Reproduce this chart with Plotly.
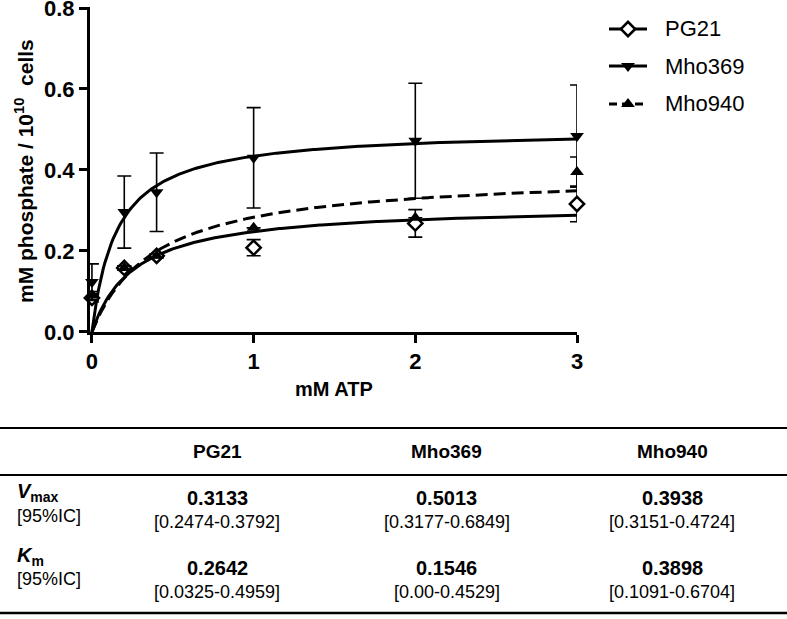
import numpy as np
import plotly.graph_objects as go

# ---------------- data ----------------
atp = [0, 0.2, 0.4, 1, 2, 3]
strains = ["PG21", "Mho369", "Mho940"]
pg21 = [0.084, 0.158, 0.188, 0.208, 0.268, 0.316]
pg21_err = [0.010, 0.005, 0.005, 0.020, 0.034, 0.044]
mho369 = [0.123, 0.296, 0.345, 0.430, 0.472, 0.484]
mho369_err = [0.045, 0.089, 0.097, 0.124, 0.142, 0.126]
mho940 = [0.090, 0.158, 0.188, 0.257, 0.282, 0.395]
mho940_err = [0.010, 0.005, 0.005, 0.000, 0.000, 0.037]

vmax = [0.3133, 0.5013, 0.3938]
vmax_ci = ["[0.2474-0.3792]", "[0.3177-0.6849]", "[0.3151-0.4724]"]
km = [0.2642, 0.1546, 0.3898]
km_ci = ["[0.0325-0.4959]", "[0.00-0.4529]", "[0.1091-0.6704]"]

y_ticks = [0.0, 0.2, 0.4, 0.6, 0.8]
x_ticks = [0, 1, 2, 3]

# ---------------- layout helpers ----------------
W, H = 787, 619
FONT = "Liberation Sans, Arial, sans-serif"


def fx(p):
    return p / W


def fy(p):
    return 1 - p / H


series = [
    dict(name="PG21", y=pg21, err=pg21_err, symbol="diamond", fill="white", dash="solid"),
    dict(name="Mho369", y=mho369, err=mho369_err, symbol="triangle-down", fill="black", dash="solid"),
    dict(name="Mho940", y=mho940, err=mho940_err, symbol="triangle-up", fill="black", dash="12px,6px"),
]

fig = go.Figure()

xfit = np.linspace(0, 3, 301)
for s, v, k in zip(series, vmax, km):
    yfit = v * xfit / (k + xfit)  # Michaelis-Menten fit from the table parameters
    fig.add_trace(go.Scatter(
        x=xfit, y=yfit, mode="lines", showlegend=False, hoverinfo="skip",
        line=dict(color="black", width=3, dash=s["dash"]),
        xaxis="x", yaxis="y",
    ))

for s in series:
    fig.add_trace(go.Scatter(
        x=atp, y=s["y"], mode="markers", name=s["name"], showlegend=False,
        marker=dict(symbol=s["symbol"], size=11 if s["fill"] == "white" else 12, color=s["fill"],
                    line=dict(color="black", width=2.5 if s["fill"] == "white" else 0)),
        error_y=dict(type="data", array=s["err"], visible=True, color="black",
                     thickness=1.6, width=7),
        cliponaxis=False, xaxis="x", yaxis="y",
    ))

# manual legend drawn on a small pixel-scaled axis pair in the top-right corner
LX0, LX1, LY0, LY1 = 590, 787, 0, 130
leg_rows = [29, 66, 104]
for s, ry in zip(series, leg_rows):
    fig.add_trace(go.Scatter(
        x=[609, 647], y=[ry, ry], mode="lines", showlegend=False, hoverinfo="skip",
        line=dict(color="black", width=3, dash="8px,5px" if s["dash"] != "solid" else "solid"),
        xaxis="x2", yaxis="y2",
    ))
    fig.add_trace(go.Scatter(
        x=[628], y=[ry], mode="markers", showlegend=False, hoverinfo="skip",
        marker=dict(symbol=s["symbol"], size=11 if s["fill"] == "white" else 12, color=s["fill"],
                    line=dict(color="black", width=2.5 if s["fill"] == "white" else 0)),
        xaxis="x2", yaxis="y2", cliponaxis=False,
    ))

annotations = []
for s, ry in zip(series, leg_rows):
    annotations.append(dict(x=fx(663), y=fy(ry), xref="paper", yref="paper", text=s["name"],
                            showarrow=False, xanchor="left", yanchor="middle",
                            font=dict(family=FONT, size=22, color="black")))

# axis titles
annotations.append(dict(x=fx(334), y=fy(389), xref="paper", yref="paper", text="<b>mM ATP</b>",
                        showarrow=False, xanchor="center", yanchor="middle",
                        font=dict(family=FONT, size=20, color="black")))
annotations.append(dict(x=fx(24), y=fy(171), xref="paper", yref="paper",
                        text="<b>mM phosphate / 10<sup>10</sup>  cells</b>", textangle=-90,
                        showarrow=False, xanchor="center", yanchor="middle",
                        font=dict(family=FONT, size=21, color="black")))

# table
col_x = [217, 447, 672]
for name, cx, v, vc, k, kc in zip(strains, col_x, vmax, vmax_ci, km, km_ci):
    annotations.append(dict(x=fx(cx), y=fy(451), xref="paper", yref="paper", text=f"<b>{name}</b>",
                            showarrow=False, xanchor="center", yanchor="middle",
                            font=dict(family=FONT, size=19, color="black")))
    annotations.append(dict(x=fx(cx), y=fy(498), xref="paper", yref="paper", text=f"<b>{v:.4f}</b>",
                            showarrow=False, xanchor="center", yanchor="middle",
                            font=dict(family=FONT, size=20, color="black")))
    annotations.append(dict(x=fx(cx), y=fy(522), xref="paper", yref="paper", text=vc,
                            showarrow=False, xanchor="center", yanchor="middle",
                            font=dict(family=FONT, size=18, color="black")))
    annotations.append(dict(x=fx(cx), y=fy(568), xref="paper", yref="paper", text=f"<b>{k:.4f}</b>",
                            showarrow=False, xanchor="center", yanchor="middle",
                            font=dict(family=FONT, size=20, color="black")))
    annotations.append(dict(x=fx(cx), y=fy(592), xref="paper", yref="paper", text=kc,
                            showarrow=False, xanchor="center", yanchor="middle",
                            font=dict(family=FONT, size=18, color="black")))

for lbl, ly in [("<b><i>V</i></b><sub><b>max</b></sub>", 493), ("<b><i>K</i></b><sub><b>m</b></sub>", 556)]:
    annotations.append(dict(x=fx(15), y=fy(ly), xref="paper", yref="paper", text=lbl,
                            showarrow=False, xanchor="left", yanchor="middle",
                            font=dict(family=FONT, size=20, color="black")))
for ly in [516, 579]:
    annotations.append(dict(x=fx(15), y=fy(ly), xref="paper", yref="paper", text="[95%IC]",
                            showarrow=False, xanchor="left", yanchor="middle",
                            font=dict(family=FONT, size=18, color="black")))

shapes = []
for ly, lw in [(428, 2), (475, 2), (613, 2.5)]:
    shapes.append(dict(type="line", xref="paper", yref="paper", x0=0, x1=1,
                       y0=fy(ly), y1=fy(ly), line=dict(color="black", width=lw)))

fig.update_layout(
    template="none",
    width=W, height=H,
    margin=dict(l=0, r=0, t=0, b=0, pad=0),
    paper_bgcolor="white", plot_bgcolor="rgba(0,0,0,0)",
    showlegend=False,
    xaxis=dict(domain=[fx(90), fx(577)], range=[-0.012, 3.0], anchor="y", automargin=False,
               tickvals=x_ticks, ticktext=[str(t) for t in x_ticks],
               showline=True, linecolor="black", linewidth=3, mirror=False,
               ticks="outside", ticklen=8, tickwidth=3, tickcolor="black",
               showgrid=False, zeroline=False, ticklabeloverflow="allow",
               tickfont=dict(family=FONT, size=22, color="black", weight="bold")),
    yaxis=dict(domain=[fy(332), fy(7.4)], range=[-0.0002, 0.8015], anchor="x", automargin=False,
               tickvals=y_ticks, ticktext=[f"{t:.1f}" for t in y_ticks],
               showline=True, linecolor="black", linewidth=3,
               ticks="outside", ticklen=8, tickwidth=3, tickcolor="black",
               showgrid=False, zeroline=False, ticklabeloverflow="allow",
               tickfont=dict(family=FONT, size=22, color="black", weight="bold")),
    xaxis2=dict(domain=[fx(LX0), fx(LX1)], range=[LX0, LX1], anchor="y2", visible=False,
                fixedrange=True, automargin=False),
    yaxis2=dict(domain=[fy(LY1), fy(LY0)], range=[LY1, LY0], anchor="x2", visible=False,
                fixedrange=True, automargin=False),
    annotations=annotations,
    shapes=shapes,
)

fig.write_html("out.html", config={"displayModeBar": False},
               post_script="document.body.style.margin='0';")
